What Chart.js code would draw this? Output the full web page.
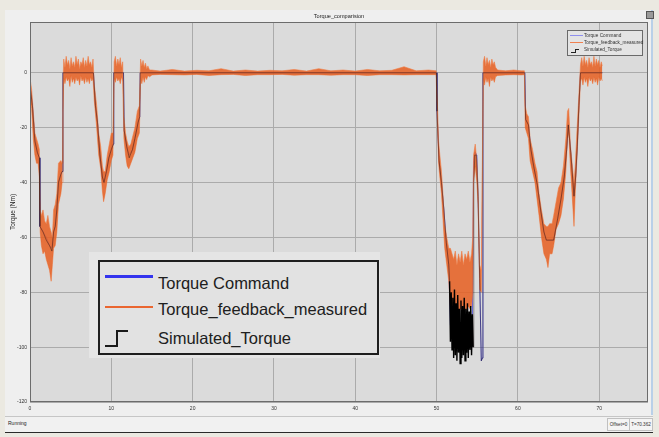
<!DOCTYPE html>
<html><head><meta charset="utf-8">
<script src="https://cdn.jsdelivr.net/npm/chart.js@4.4.1/dist/chart.umd.min.js"></script>
<style>
html,body{margin:0;padding:0;width:659px;height:437px;overflow:hidden;background:#ebe9e1;font-family:"Liberation Sans",Arial,sans-serif;}
#panel{position:absolute;left:5px;top:10px;width:648px;height:421px;background:#efefef;border-bottom:2px solid #2a2a2a;}
#vline{position:absolute;left:651px;top:10px;width:2px;height:405px;background:#b9d0e8;}
#icon{position:absolute;left:646px;top:11px;width:6px;height:6px;background:#9a9a9a;border:1px solid #555;}
#c{position:absolute;left:0;top:0;}
#title{position:absolute;left:30px;width:618px;top:13px;text-align:center;font-size:5.6px;color:#222;}
#status{position:absolute;left:5px;top:416px;width:648px;height:15px;border-top:1px solid #c6c6c6;background:#f1f1f1;}
#running{position:absolute;left:8px;top:420px;font-size:5px;color:#222;}
.sbox{position:absolute;top:418px;height:11px;border:1px solid #c0c0c0;font-size:4.6px;line-height:11px;color:#333;text-align:center;background:#f4f4f4;}
#bigwrap{position:absolute;left:89px;top:252px;width:291px;height:106px;background:#e5e5e5;}
#big{position:absolute;left:98px;top:260px;width:277px;height:91px;border:2px solid #1e1e1e;background:#e2e2e2;}
.bt{position:absolute;left:58px;font-size:16.5px;color:#202020;white-space:nowrap;line-height:20px;}
#small{position:absolute;left:567px;top:30px;width:74px;height:24px;border:1px solid #6a6a6a;background:#e4e4e4;}
.st{position:absolute;left:16px;font-size:4.7px;color:#333;white-space:nowrap;line-height:6px;}
</style></head>
<body>
<div id="panel"></div>
<div id="vline"></div>
<div id="icon"></div>
<canvas id="c" width="659" height="437"></canvas>
<div id="title">Torque_comparision</div>
<div id="bigwrap"></div>
<div id="big"></div>
<div id="small"></div>
<div id="status"></div>
<div id="running">Running</div>
<div class="sbox" style="left:607px;width:21px;">Offset=0</div>
<div class="sbox" style="left:629px;width:22px;">T=70.362</div>
<script>
// ---- data ----
const seriesNames = ['Torque Command', 'Torque_feedback_measured', 'Simulated_Torque'];
const xTicks = [0, 10, 20, 30, 40, 50, 60, 70];
const yTicks = [-120, -100, -80, -60, -40, -20, 0];

// Torque Command (blue)
const cmdT = [0,0.3,0.6,0.9,1.15,1.22,1.6,2.0,2.4,2.7,2.9,3.1,3.3,3.5,3.8,3.95,4.05,7.8,8.05,8.3,8.6,8.9,9.1,9.4,9.7,10.0,10.25,10.3,11.5,11.58,11.9,12.2,12.6,12.9,13.3,13.5,13.55,49.98,50.05,50.3,50.6,50.9,51.2,51.5,51.7,52.5,53.5,54.4,54.55,54.75,54.95,55.1,55.3,55.5,55.62,55.7,60.85,60.95,61.3,61.6,62.0,62.4,62.8,63.2,63.5,64.4,64.9,65.3,65.7,66.0,66.2,66.5,66.9,67.1,67.3,67.5,67.7,70.38];
const cmdV = [-4,-12,-24,-29,-31,-56,-58,-60,-63,-64,-58,-56,-50,-40,-37,-36,0,0,-12,-18,-30,-38,-40,-36,-31,-28,-26,0,0,-21,-27,-30,-28,-24,-18,-16,0,0,-14,-32,-40,-50,-62,-70,-92,-93,-92,-91,-32,-29,-30,-45,-75,-105,-104,0,0,-17,-19,-28,-35,-41,-50,-58,-61,-61,-53,-46,-38,-28,-19,-29,-45,-38,-27,-12,0,0];

// Torque_feedback_measured (orange): upper / lower edges of the noisy trace
const fbT = [
  0,0.2,0.4,0.6,0.8,1.0,1.15,1.25,1.4,1.6,1.8,2.0,2.2,2.4,2.6,2.75,2.9,3.1,3.3,3.5,3.8,3.95,4.05,
  4.15,4.3,4.45,4.6,4.75,4.9,5.05,5.2,5.35,5.5,5.65,5.8,5.95,6.1,6.25,6.4,6.55,6.7,6.85,7.0,7.15,7.3,7.45,7.6,7.75,
  7.9,8.05,8.2,8.45,8.7,8.9,9.05,9.25,9.5,9.75,10.0,10.2,
  10.35,10.5,10.65,10.8,10.95,11.1,11.25,11.4,
  11.55,11.75,11.95,12.15,12.4,12.65,12.9,13.2,13.45,
  13.6,13.75,13.9,14.05,14.2,14.35,14.5,14.7,15.0,
  16,17.5,19,20.5,22,23.5,25,26.5,28,29.5,31,32.5,34,35.5,37,38.5,40,41.5,43,44.5,46,47.5,49,49.95,
  50.1,50.25,50.4,50.6,50.8,51.0,51.25,51.5,51.7,51.9,52.1,52.3,52.5,52.7,52.9,53.1,53.3,53.5,53.7,53.9,54.1,54.3,54.45,54.55,54.75,54.95,55.1,55.3,55.5,
  55.75,55.9,56.05,56.2,56.35,56.5,56.65,56.8,56.95,57.1,57.25,57.5,58.5,59.5,60.4,60.8,
  60.9,61.1,61.3,61.5,61.8,62.1,62.35,62.6,62.9,63.2,63.5,63.7,63.9,64.2,64.4,64.7,65.0,65.3,65.6,65.9,66.1,66.25,66.45,66.7,66.9,67.05,67.25,67.5,
  67.7,67.85,68.0,68.15,68.3,68.45,68.6,68.75,68.9,69.05,69.2,69.35,69.5,69.65,69.8,69.95,70.1,70.25,70.38];
const fbHi = [
  -2,-6,-14,-22,-24,-26,-28,-50,-52,-50,-54,-55,-52,-56,-58,-60,-50,-48,-44,-33,-32,-33,-4,
  5,2,6,3,4.5,1.5,5.5,2.5,4,2,6,3,5,1.5,4,3,5.5,2,4.5,2.5,6,3,4,2,5,
  -4,-8,-12,-22,-27,-34,-36,-36,-30,-26,-22,-22,
  4,6,2.5,5,3,5.5,2,4,
  -16,-22,-25,-27,-26,-23,-20,-14,-12,
  5,2.5,4.5,2,3.5,1.5,2.5,1,1,
  0.6,1.2,0.6,0.9,0.7,1.5,0.6,1,0.6,0.9,0.7,1.2,0.6,1.5,0.7,1,0.6,1.2,0.7,0.9,2.2,0.7,1,0.7,
  -11,-25,-30,-36,-45,-55,-60,-64,-64,-66,-68,-65,-70,-66,-69,-65,-70,-66,-68,-65,-69,-66,-60,-30,-26,-32,-42,-70,-72,
  4,6,2.5,5.5,3,4.5,2,5,3,4,2,1,0.7,1,0.7,0.7,
  -12,-15,-16,-24,-28,-33,-36,-44,-50,-55,-56,-56,-55,-55,-52,-47,-42,-40,-34,-24,-14,-13,-26,-34,-40,-34,-22,-8,
  3,5.5,2.5,6,3,4.5,2,5.5,3,4,2,6,2.5,5,3,4.5,2,4,2.5];
const fbLo = [
  -9,-13,-24,-30,-33,-33,-38,-58,-63,-66,-65,-68,-70,-72,-76,-70,-64,-63,-58,-48,-44,-40,-15,
  -2,-4,-1.5,-3,-2,-5,-1,-3.5,-2,-4,-1.5,-3,-2,-4.5,-1,-3,-2,-4,-1.5,-3.5,-2,-4,-1.5,-3,-2,
  -10,-15,-20,-30,-35,-43,-47,-44,-39,-36,-32,-30,
  -2,-3.5,-1.5,-3,-2,-4,-1.5,-3,
  -24,-30,-34,-35,-33,-31,-29,-24,-22,
  -2,-4,-1.5,-3.5,-1.5,-2.5,-1,-1.5,-0.8,
  -0.6,-0.7,-0.8,-0.6,-1,-0.7,-0.6,-1,-0.7,-0.7,-0.6,-0.9,-0.7,-0.7,-0.9,-0.7,-0.7,-1,-0.7,-0.7,-0.8,-0.7,-0.7,-0.7,
  -19,-33,-38,-44,-54,-64,-70,-76,-85,-86,-86,-87,-86,-87,-86,-86,-87,-86,-86,-85,-86,-85,-80,-40,-34,-40,-48,-79,-80,
  -2,-4.5,-1.5,-3.5,-2,-5,-1.5,-3,-2,-3.5,-1.5,-1,-0.8,-0.7,-0.8,-0.7,
  -20,-22,-24,-32,-36,-40,-46,-52,-60,-66,-68,-71,-66,-66,-63,-57,-55,-52,-46,-36,-24,-22,-34,-46,-56,-44,-32,-16,
  -3,-2,-4.5,-1.5,-3.5,-2,-5,-1.5,-3,-2,-4,-1.5,-3.5,-2,-4.5,-1.5,-3,-2,-3];

// Simulated_Torque (black)
const simT = [0,0.3,0.6,0.9,1.15,1.22,1.6,2.0,2.4,2.7,2.9,3.1,3.3,3.5,3.8,3.95,4.05,7.8,8.05,8.3,8.6,8.9,9.1,9.4,9.7,10.0,10.25,10.3,11.5,11.58,11.9,12.2,12.6,12.9,13.3,13.5,13.55,49.98,50.05,50.3,50.6,50.9,51.2,51.5,51.6,51.7,51.8,51.9,52.0,52.1,52.2,52.3,52.4,52.5,52.6,52.7,52.8,52.9,53.0,53.1,53.2,53.3,53.4,53.5,53.6,53.7,53.8,53.9,54.0,54.1,54.2,54.3,54.4,54.5,54.58,54.7,54.9,55.1,55.3,55.5,55.62,55.7,60.85,60.95,61.3,61.6,62.0,62.4,62.8,63.2,63.5,64.4,64.9,65.3,65.7,66.0,66.2,66.5,66.9,67.1,67.3,67.5,67.7,70.38];
const simV = [-5,-12,-25,-29,-31,-56,-58,-61,-63,-65,-58,-56,-50,-40,-37,-36,0,0,-12,-18,-30,-38,-40,-36,-31,-28,-26,0,0,-21,-27,-31,-28,-24,-18,-16,0,0,-14,-32,-40,-50,-62,-70,-76,-98,-80,-101,-82,-104,-79,-103,-84,-105,-81,-102,-86,-106,-83,-104,-85,-103,-82,-105,-86,-102,-84,-104,-87,-101,-85,-103,-88,-100,-40,-30,-30,-45,-75,-105,-104,0,0,-17,-19,-28,-35,-41,-50,-58,-61,-61,-53,-46,-38,-28,-19,-29,-45,-38,-27,-12,0,0];
const simDenseFrom = 51.55, simDenseTo = 54.55;

const pts = (T, V) => T.map((t, i) => ({x: t, y: V[i]}));

// ---- legends (text) ----
const big = document.getElementById('big');
const small = document.getElementById('small');
const bigRows = [11, 37, 66], smallRows = [1.5, 8.5, 16];
seriesNames.forEach((n, i) => {
  const d = document.createElement('div'); d.className = 'bt'; d.style.top = bigRows[i] + 'px'; d.textContent = n; big.appendChild(d);
  const s = document.createElement('div'); s.className = 'st'; s.style.top = smallRows[i] + 'px'; s.textContent = n; small.appendChild(s);
});
function seg(parent, l, t, w, h, col) {
  const e = document.createElement('div');
  e.style.cssText = `position:absolute;left:${l}px;top:${t}px;width:${w}px;height:${h}px;background:${col};`;
  parent.appendChild(e);
}
seg(big, 5, 13, 48, 2.5, '#3434ee');
seg(big, 5, 44, 48, 2, '#ea6630');
seg(big, 5, 83, 12, 2, '#1a1a1a'); seg(big, 16, 68, 2, 17, '#1a1a1a'); seg(big, 16, 68, 12, 2, '#1a1a1a');
seg(small, 2, 4, 13, 1, '#9090ee');
seg(small, 2, 11, 13, 1, '#f08050');
seg(small, 3, 21, 4, 0.8, '#222'); seg(small, 7, 17.5, 0.8, 4, '#222'); seg(small, 7, 17.5, 4, 0.8, '#222');

// ---- chart ----
const framePlugin = {
  id: 'frame',
  beforeDraw(chart) {
    const {ctx, chartArea: a} = chart;
    ctx.save(); ctx.fillStyle = '#dbdbdb';
    ctx.fillRect(a.left, a.top, a.right - a.left, a.bottom - a.top); ctx.restore();
  },
  afterDraw(chart) {
    const {ctx, chartArea: a} = chart;
    ctx.save(); ctx.strokeStyle = '#6c6c6c'; ctx.lineWidth = 1;
    ctx.strokeRect(a.left + 0.5, a.top + 0.5, a.right - a.left - 1, a.bottom - a.top - 1); ctx.restore();
  }
};
const inDense = c => c.p0.parsed.x >= simDenseFrom && c.p1.parsed.x <= simDenseTo;

new Chart(document.getElementById('c'), {
  type: 'line',
  data: {
    datasets: [
      {label: seriesNames[2], data: pts(simT, simV), borderColor: 'rgba(10,10,10,0.4)', borderWidth: 1, pointRadius: 0, fill: false,
        segment: {borderColor: c => inDense(c) ? '#000000' : 'rgba(20,10,10,0.4)', borderWidth: c => inDense(c) ? 1.4 : 1}},
      {label: seriesNames[1], data: pts(fbT, fbHi), borderColor: 'rgba(240,125,70,0.75)', borderWidth: 0.8, pointRadius: 0,
        fill: '+1', backgroundColor: 'rgba(230,94,32,0.85)'},
      {label: seriesNames[1] + ' low', data: pts(fbT, fbLo), borderColor: 'rgba(240,125,70,0.75)', borderWidth: 0.8, pointRadius: 0, fill: false},
      {label: seriesNames[0], data: pts(cmdT, cmdV), borderColor: 'rgba(75,75,215,0.85)', borderWidth: 1, pointRadius: 0, fill: false}
    ]
  },
  options: {
    responsive: false, animation: false, events: [],
    layout: {padding: {left: 5, top: 22, right: 11, bottom: 23}},
    plugins: {legend: {display: false}, tooltip: {enabled: false}, title: {display: false}},
    elements: {line: {tension: 0}},
    scales: {
      x: {
        type: 'linear', min: 0, max: 76,
        afterBuildTicks: s => { s.ticks = xTicks.map(v => ({value: v})); },
        afterFit: s => { s.height = 12; },
        grid: {color: '#ababab', lineWidth: 1, drawTicks: false},
        border: {display: false},
        ticks: {font: {size: 5, family: 'Liberation Sans'}, color: '#333', padding: 4, maxRotation: 0, callback: v => String(v)}
      },
      y: {
        type: 'linear', min: -120, max: 18.5,
        afterBuildTicks: s => { s.ticks = yTicks.map(v => ({value: v})); },
        afterFit: s => { s.width = 25; },
        grid: {color: '#ababab', lineWidth: 1, drawTicks: false},
        border: {display: false},
        title: {display: true, text: 'Torque (Nm)', font: {size: 6.5, family: 'Liberation Sans'}, color: '#222', padding: {top: 4, bottom: 0}},
        ticks: {font: {size: 5, family: 'Liberation Sans'}, color: '#333', padding: 3, callback: v => String(v)}
      }
    }
  },
  plugins: [framePlugin]
});
</script>
</body></html>
